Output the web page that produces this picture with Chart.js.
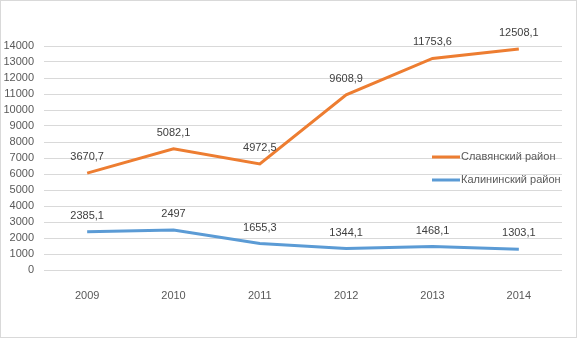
<!DOCTYPE html>
<html>
<head>
<meta charset="utf-8">
<script src="https://cdn.jsdelivr.net/npm/chart.js@4"></script>
<style>
  html, body { margin: 0; padding: 0; background: #fff; }
  #wrap { width: 578px; height: 338px; position: relative; }
</style>
</head>
<body>
<div id="wrap"><canvas id="grafico" width="578" height="338"></canvas></div>
<script>
// Годы
const anos = ["2009", "2010", "2011", "2012", "2013", "2014"];
// Калининский район (нижний слой)
const kalinin = [2385.1, 2497, 1655.3, 1344.1, 1468.1, 1303.1];
// Славянский район (накопление поверх Калининского)
const slavyansk = [3670.7, 5082.1, 4972.5, 9608.9, 11753.6, 12508.1];
const nombres = ["Калининский район", "Славянский район"];
const colores = ["#5B9BD5", "#ED7D31"];

const fuente = "'Liberation Sans', Arial, sans-serif";

function fmt(v) {
  return String(v).replace(".", ",");
}

// Marco gris alrededor de la figura
const marco = {
  id: "marco",
  beforeDraw(chart) {
    const ctx = chart.ctx;
    ctx.save();
    ctx.fillStyle = "#fff";
    ctx.fillRect(0, 0, chart.width, chart.height);
    ctx.strokeStyle = "#d9d9d9";
    ctx.lineWidth = 1;
    ctx.strokeRect(0.5, 0.5, chart.width - 2, chart.height - 1);
    ctx.restore();
  }
};

// Etiquetas de datos encima de cada punto
const etiquetas = {
  id: "etiquetas",
  afterDatasetsDraw(chart) {
    const ctx = chart.ctx;
    ctx.save();
    ctx.font = "11px " + fuente;
    ctx.fillStyle = "#404040";
    ctx.textAlign = "center";
    ctx.textBaseline = "middle";
    chart.data.datasets.forEach((ds, i) => {
      const meta = chart.getDatasetMeta(i);
      meta.data.forEach((pt, j) => {
        ctx.fillText(fmt(ds.data[j]), pt.x, pt.y - 16);
      });
    });
    ctx.restore();
  }
};

// Leyenda dentro del área del gráfico, a la derecha
const leyenda = {
  id: "leyenda",
  afterDraw(chart) {
    const ctx = chart.ctx;
    ctx.save();
    ctx.font = "11px " + fuente;
    ctx.textBaseline = "middle";
    const orden = [1, 0];
    orden.forEach((i, k) => {
      const y = 157 + k * 23;
      ctx.strokeStyle = colores[i];
      ctx.lineWidth = 3;
      ctx.beginPath();
      ctx.moveTo(432, y);
      ctx.lineTo(460, y);
      ctx.stroke();
      ctx.fillStyle = "#595959";
      ctx.fillText(nombres[i], 461, y);
    });
    ctx.restore();
  }
};

const ctx = document.getElementById("grafico").getContext("2d");
new Chart(ctx, {
  type: "line",
  data: {
    labels: anos,
    datasets: [
      { label: nombres[0], data: kalinin, borderColor: colores[0], backgroundColor: colores[0], borderWidth: 3, pointRadius: 0, fill: false, tension: 0 },
      { label: nombres[1], data: slavyansk, borderColor: colores[1], backgroundColor: colores[1], borderWidth: 3, pointRadius: 0, fill: false, tension: 0 }
    ]
  },
  options: {
    responsive: false,
    animation: false,
    layout: { padding: { top: 46, right: 16, left: 0, bottom: 0 } },
    plugins: { legend: { display: false }, tooltip: { enabled: false } },
    scales: {
      x: {
        offset: true,
        grid: { display: false },
        border: { display: false },
        ticks: { color: "#595959", font: { family: fuente, size: 11 }, padding: 11 },
        afterFit(scale) { scale.height = 68; }
      },
      y: {
        stacked: true,
        min: 0,
        max: 14000,
        grid: { color: "#d9d9d9", lineWidth: 1, drawTicks: false },
        border: { display: false },
        ticks: {
          stepSize: 1000,
          autoSkip: false,
          color: "#595959",
          font: { family: fuente, size: 11 },
          padding: 10,
          callback: (v) => String(v)
        },
        afterFit(scale) { scale.width = 44; }
      }
    }
  },
  plugins: [marco, etiquetas, leyenda]
});
</script>
</body>
</html>
